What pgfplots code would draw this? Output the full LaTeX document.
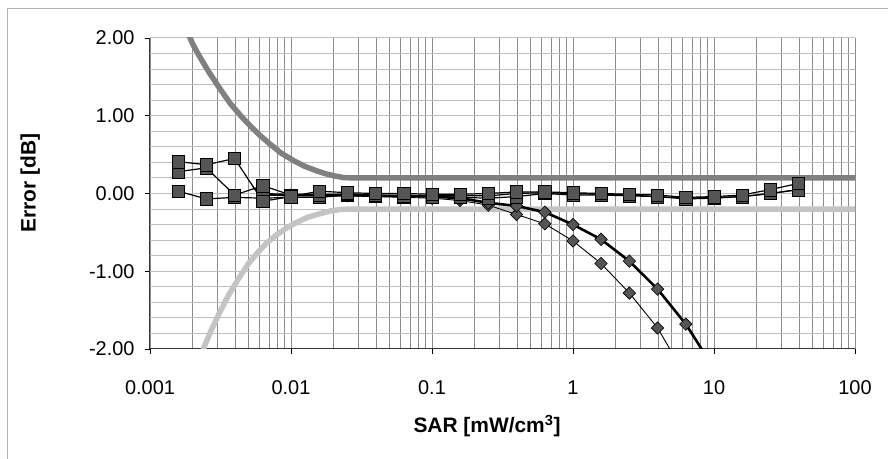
\documentclass[border=0pt]{standalone}
\usepackage{fontspec}
\setmainfont{Liberation Sans}
\usepackage{pgfplots}
\pgfplotsset{compat=1.18}
\definecolor{ubound}{RGB}{128,128,128}
\definecolor{lbound}{RGB}{196,196,196}
\definecolor{mfill}{RGB}{85,85,85}
\definecolor{xgrid}{RGB}{140,140,140}
\definecolor{ygrid}{RGB}{190,190,190}
\begin{document}
\begin{tikzpicture}[x=1bp,y=1bp]
\path[use as bounding box] (0,0) rectangle (888,459);
\draw[gray!60, line width=1bp] (7,-5) -- (7,450) -- (895,450);
\begin{axis}[
  at={(150bp,110bp)}, anchor=south west,
  scale only axis, width=705bp, height=311bp,
  xmode=log, xmin=0.001, xmax=100, ymin=-2, ymax=2,
  axis lines*=left,
  axis line style={black!80, line width=1bp},
  xtick={0.001,0.01,0.1,1,10,100},
  xticklabels={0.001,0.01,0.1,1,10,100},
  ytick={-2,-1,0,1,2},
  yticklabels={-2.00,-1.00,0.00,1.00,2.00},
  minor y tick num=4,
  xmajorgrids, xminorgrids, ymajorgrids, yminorgrids,
  every axis x grid/.append style={xgrid, line width=0.7bp},
  every axis y grid/.append style={ygrid, line width=1bp},
  tick align=outside, major tick length=5bp, minor tick length=0pt,
  tick style={black, line width=0.8bp},
  tick label style={font=\fontsize{20}{23}\selectfont},
  yticklabel style={anchor=east, xshift=-7bp},
  xticklabel style={anchor=base, yshift=-41bp},
  xlabel={SAR [mW/cm\textsuperscript{3}]},
  ylabel={Error [dB]},
  label style={font=\fontsize{21}{23}\selectfont\bfseries},
  xlabel style={at={(axis description cs:0.478,-0.270)}, anchor=base},
  ylabel style={at={(axis description cs:-0.170,0.534)}, anchor=center},
  clip=true,
]
% boundaries
\addplot[ubound, line width=5.5bp, no marks, line join=round] coordinates {
(0.00180,2.12) (0.00200,1.93) (0.0022,1.79) (0.0026,1.57) (0.0031,1.36) (0.0037,1.16) (0.0044,1.00) (0.0052,0.86) (0.0060,0.75) (0.0070,0.645) (0.0085,0.52) (0.0105,0.42) (0.0125,0.35) (0.0150,0.295) (0.0175,0.255) (0.0205,0.225) (0.0235,0.205) (0.027,0.20) (100,0.2)};
\addplot[lbound, line width=5.5bp, no marks, line join=round] coordinates {
(0.00228,-2.10) (0.00250,-1.91) (0.00275,-1.74) (0.0031,-1.54) (0.0036,-1.31) (0.0043,-1.08) (0.0050,-0.90) (0.0058,-0.76) (0.0067,-0.64) (0.0078,-0.54) (0.0092,-0.45) (0.0110,-0.37) (0.0132,-0.305) (0.0160,-0.26) (0.0190,-0.225) (0.0225,-0.205) (0.027,-0.2) (100,-0.2)};
% diamonds
\addplot[black, line width=0.9bp, mark=square*, mark size=4.4bp, mark options={rotate=45, fill=mfill, draw=black, line width=0.6bp}] coordinates {
(0.00631,-0.02) (0.01,-0.03) (0.0158,-0.03) (0.0251,-0.03) (0.0398,-0.04) (0.0631,-0.05) (0.1,-0.06) (0.158,-0.09) (0.251,-0.15) (0.398,-0.27) (0.631,-0.39) (1,-0.61) (1.58,-0.90) (2.51,-1.28) (3.98,-1.73) (6.31,-2.35)};
\addplot[black, line width=2.6bp, mark=square*, mark size=4.4bp, mark options={rotate=45, fill=mfill, draw=black, line width=0.6bp}] coordinates {
(0.00631,-0.01) (0.01,-0.02) (0.0158,-0.02) (0.0251,-0.02) (0.0398,-0.03) (0.0631,-0.03) (0.1,-0.04) (0.158,-0.06) (0.251,-0.12) (0.398,-0.16) (0.631,-0.24) (1,-0.40) (1.58,-0.59) (2.51,-0.87) (3.98,-1.23) (6.31,-1.68) (10,-2.25)};
% squares
\addplot[black, line width=1.2bp, mark=square*, mark size=6.2bp, mark options={fill=mfill, draw=black, line width=0.6bp}] coordinates {
(0.00158,0.03) (0.00251,-0.07) (0.00398,-0.05) (0.00631,-0.06) (0.01,-0.05) (0.0158,-0.05) (0.0251,-0.02) (0.0398,-0.03) (0.0631,-0.04) (0.1,-0.03) (0.158,-0.03) (0.251,-0.03) (0.398,0.00) (0.631,0.01) (1,0.00) (1.58,-0.01) (2.51,-0.02) (3.98,-0.04) (6.31,-0.06) (10,-0.05) (15.8,-0.04) (25.1,0.00) (39.8,0.05)};
\addplot[black, line width=1.2bp, mark=square*, mark size=6.2bp, mark options={fill=mfill, draw=black, line width=0.6bp}] coordinates {
(0.00158,0.28) (0.00251,0.33) (0.00398,-0.02) (0.00631,0.10) (0.01,-0.02) (0.0158,-0.02) (0.0251,-0.01) (0.0398,-0.02) (0.0631,-0.03) (0.1,-0.04) (0.158,-0.05) (0.251,-0.06) (0.398,-0.04) (0.631,0.00) (1,-0.02) (1.58,-0.02) (2.51,-0.03) (3.98,-0.04) (6.31,-0.07) (10,-0.06) (15.8,-0.04) (25.1,0.00) (39.8,0.05)};
\addplot[black, line width=1.2bp, mark=square*, mark size=6.2bp, mark options={fill=mfill, draw=black, line width=0.6bp}] coordinates {
(0.00158,0.41) (0.00251,0.37) (0.00398,0.45) (0.00631,-0.10) (0.01,-0.04) (0.0158,0.03) (0.0251,0.01) (0.0398,0.00) (0.0631,0.00) (0.1,-0.01) (0.158,-0.01) (0.251,0.00) (0.398,0.02) (0.631,0.02) (1,0.01) (1.58,0.00) (2.51,-0.01) (3.98,-0.02) (6.31,-0.05) (10,-0.04) (15.8,-0.02) (25.1,0.05) (39.8,0.13)};
\end{axis}
\end{tikzpicture}
\end{document}
